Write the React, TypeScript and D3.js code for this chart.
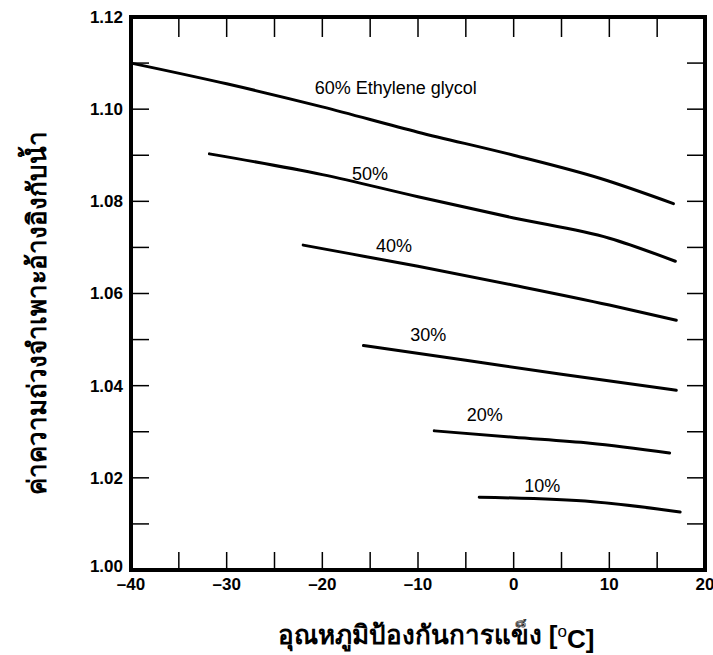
import { useEffect, useRef } from 'react';
import * as d3 from 'd3';

// freezing-protection temperature [°C] and specific gravity, per glycol concentration
const temp60 = [-40, -30, -20, -10, 0, 9, 16.7];
const sg60 = [1.11, 1.1055, 1.1005, 1.095, 1.09, 1.085, 1.0795];
const temp50 = [-31.8, -20, -10, 0, 10, 16.9];
const sg50 = [1.0903, 1.0858, 1.081, 1.0764, 1.072, 1.067];
const temp40 = [-22, -17, -10, 0, 10, 17];
const sg40 = [1.0705, 1.0686, 1.0659, 1.0618, 1.0575, 1.0542];
const temp30 = [-15.7, -5, 5, 17];
const sg30 = [1.0487, 1.0455, 1.0425, 1.039];
const temp20 = [-8.3, 0, 8, 16.3];
const sg20 = [1.0302, 1.0288, 1.0275, 1.0254];
const temp10 = [-3.6, 8.3, 17.4];
const sg10 = [1.0158, 1.0148, 1.0126];

const seriesLabels = ['60% Ethylene glycol', '50%', '40%', '30%', '20%', '10%'];
const labelTemp = [-20.8, -16.9, -14.4, -10.8, -4.9, 1.1];
const labelSg = [1.1033, 1.0846, 1.069, 1.0497, 1.0323, 1.0169];

const xTickLabels = [-40, -30, -20, -10, 0, 10, 20];
const xTickMarks = [-35, -30, -25, -20, -15, -10, -5, 0, 5, 10, 15];
const yTickLabels = [1.0, 1.02, 1.04, 1.06, 1.08, 1.1, 1.12];
const yTickMarks = [1.01, 1.02, 1.03, 1.04, 1.05, 1.06, 1.07, 1.08, 1.09, 1.1, 1.11];

const xTitle = 'อุณหภูมิป้องกันการแข็ง [';
const yTitle = 'ค่าความถ่วงจำเพาะอ้างอิงกับน้ำ';

const W = 713;
const H = 655;

export default function App() {
	const svgRef = useRef<SVGSVGElement>(null);

	useEffect(() => {
		if (!svgRef.current) return;
		const root = d3.select(svgRef.current);
		root.selectAll('*').remove();

		const margin = { top: 17, right: 8, bottom: 85, left: 131 };
		const innerW = W - margin.left - margin.right;
		const innerH = H - margin.top - margin.bottom;

		const x = d3.scaleLinear().domain([-40, 20]).range([0, innerW]);
		const y = d3.scaleLinear().domain([1.0, 1.12]).range([innerH, 0]);

		const g = root.append('g').attr('transform', `translate(${margin.left},${margin.top})`);
		const font = 'Arial, "Liberation Sans", Helvetica, sans-serif';
		const tickLen = 18;

		// inward ticks on all four sides
		const ticks = g.append('g').attr('stroke', '#000').attr('stroke-width', 1.5);
		xTickMarks.forEach((t) => {
			ticks.append('line').attr('x1', x(t)).attr('x2', x(t)).attr('y1', innerH).attr('y2', innerH - tickLen);
			ticks.append('line').attr('x1', x(t)).attr('x2', x(t)).attr('y1', 0).attr('y2', tickLen + 2);
		});
		yTickMarks.forEach((v) => {
			ticks.append('line').attr('x1', 0).attr('x2', tickLen).attr('y1', y(v)).attr('y2', y(v));
			ticks.append('line').attr('x1', innerW).attr('x2', innerW - tickLen).attr('y1', y(v)).attr('y2', y(v));
		});

		// frame
		g.append('rect')
			.attr('x', 0)
			.attr('y', 0)
			.attr('width', innerW)
			.attr('height', innerH)
			.attr('fill', 'none')
			.attr('stroke', '#000')
			.attr('stroke-width', 4);

		// tick labels
		g.selectAll('.xlab')
			.data(xTickLabels)
			.enter()
			.append('text')
			.attr('x', (d) => x(d))
			.attr('y', innerH + 20)
			.attr('text-anchor', 'middle')
			.style('font-family', font)
			.style('font-weight', 'bold')
			.style('font-size', '17px')
			.text((d) => (d < 0 ? `–${Math.abs(d)}` : `${d}`));

		g.selectAll('.ylab')
			.data(yTickLabels)
			.enter()
			.append('text')
			.attr('x', -8)
			.attr('y', (d) => y(d))
			.attr('dy', (d) => (d === 1.0 ? '0.1em' : '0.35em'))
			.attr('text-anchor', 'end')
			.style('font-family', font)
			.style('font-weight', 'bold')
			.style('font-size', '17px')
			.text((d) => d3.format('.2f')(d));

		// curves
		const series = [
			[temp60, sg60],
			[temp50, sg50],
			[temp40, sg40],
			[temp30, sg30],
			[temp20, sg20],
			[temp10, sg10],
		];
		const line = d3
			.line<[number, number]>()
			.x((d) => x(d[0]))
			.y((d) => y(d[1]))
			.curve(d3.curveMonotoneX);

		series.forEach(([ts, vs]) => {
			const pts = ts.map((t, i) => [t, vs[i]] as [number, number]);
			g.append('path')
				.attr('d', line(pts))
				.attr('fill', 'none')
				.attr('stroke', '#000')
				.attr('stroke-width', 3)
				.attr('stroke-linecap', 'round');
		});

		// curve labels
		seriesLabels.forEach((lab, i) => {
			g.append('text')
				.attr('x', x(labelTemp[i]))
				.attr('y', y(labelSg[i]))
				.style('font-family', font)
				.style('font-size', '18px')
				.text(lab);
		});

		// axis titles
		const xt = root
			.append('text')
			.attr('x', 436)
			.attr('y', 644)
			.attr('text-anchor', 'middle')
			.style('font-family', font)
			.style('font-weight', 'bold')
			.style('font-size', '26px')
			.text(xTitle);
		xt.append('tspan').attr('dy', '-0.42em').style('font-size', '17px').style('font-weight', 'normal').text('o');
		xt.append('tspan').attr('dy', '0.42em').text('C]');

		root.append('text')
			.attr('transform', `translate(46,313) rotate(-90)`)
			.attr('text-anchor', 'middle')
			.style('font-family', font)
			.style('font-weight', 'bold')
			.style('font-size', '26px')
			.text(yTitle);
	}, []);

	return (
		<svg
			ref={svgRef}
			width={W}
			height={H}
			style={{ position: 'absolute', left: 0, top: 0, background: '#fff' }}
		></svg>
	);
}
